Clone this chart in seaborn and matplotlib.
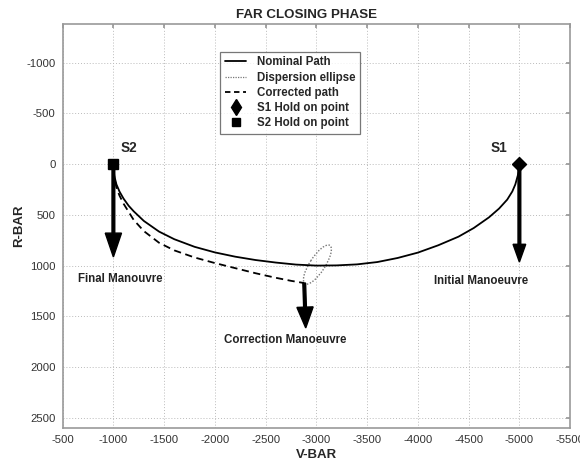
import numpy as np
import pandas as pd
import matplotlib
matplotlib.use("Agg")
import matplotlib.pyplot as plt
import seaborn as sns
from matplotlib.patches import Ellipse
from matplotlib.lines import Line2D

# data
nominal_v = [-1000, -1010, -1030, -1060, -1100, -1150, -1200, -1300, -1450, -1600,
             -1800, -2000, -2200, -2400, -2600, -2800, -3000, -3200, -3400, -3600,
             -3800, -4000, -4200, -4400, -4550, -4700, -4800, -4880, -4930, -4960,
             -4985, -5000]
nominal_r = [40, 120, 200, 270, 340, 410, 465, 560, 665, 740,
             815, 870, 912, 945, 970, 990, 1000, 998, 988, 965,
             925, 872, 800, 715, 630, 525, 438, 350, 270, 200,
             110, 30]

corrected_v = [-1000, -1010, -1030, -1060, -1100, -1150, -1200, -1300, -1450, -1600,
               -1800, -2000, -2200, -2400, -2600, -2750, -2880]
corrected_r = [60, 140, 230, 310, 390, 470, 550, 660, 775, 850,
               920, 975, 1025, 1075, 1120, 1150, 1172]

ellipse_center = (-3010, 990)
ellipse_axes = (450, 150)
ellipse_angle = 57

hold_points = {"S1": (-5000, 0), "S2": (-1000, 0)}

# manoeuvre arrows: start, tip, head width, head length
arrows = [
    ((-1000, 30), (-1000, 915), 160, 235),
    ((-5000, 30), (-5000, 965), 125, 175),
    ((-2880, 1172), (-2895, 1614), 160, 205),
]
arrow_labels = [("Final Manouvre", -1070, 1130),
                ("Initial Manoeuvre", -4620, 1150),
                ("Correction Manoeuvre", -2690, 1735)]

xticks = np.arange(-500, -5501, -500)
yticks = np.arange(-1000, 2501, 500)

sns.set_theme(style="white")
plt.rcParams['font.family'] = ['Liberation Sans', 'DejaVu Sans']
plt.rcParams['axes.unicode_minus'] = False

fig = plt.figure(figsize=(5.8, 4.66), dpi=100)
ax = fig.add_axes([0.108, 0.0815, 0.875, 0.867])

nom = pd.DataFrame({"v": nominal_v, "r": nominal_r})
cor = pd.DataFrame({"v": corrected_v, "r": corrected_r})
sns.lineplot(data=nom, x="v", y="r", sort=False, estimator=None, color="black", lw=1.3, ax=ax)
sns.lineplot(data=cor, x="v", y="r", sort=False, estimator=None, color="black", lw=1.3,
             linestyle=(0, (4, 2.5)), ax=ax)

ax.add_patch(Ellipse(ellipse_center, ellipse_axes[0], ellipse_axes[1], angle=ellipse_angle,
                     fill=False, ec="#777777", lw=1.0, ls=(0, (1, 1.2))))

for start, tip, hw, hl in arrows:
    ax.arrow(start[0], start[1], tip[0] - start[0], tip[1] - start[1], width=27,
             head_width=hw, head_length=hl, length_includes_head=True,
             fc="black", ec="black", zorder=4)

ax.plot(*hold_points["S1"], marker="D", ms=7, color="black", zorder=5)
ax.plot(*hold_points["S2"], marker="s", ms=7, color="black", zorder=5)
ax.text(-4800, -160, "S1", fontsize=9.8, fontweight="bold", ha="center", va="center")
ax.text(-1150, -160, "S2", fontsize=9.8, fontweight="bold", ha="center", va="center")

for txt, x, y in arrow_labels:
    ax.text(x, y, txt, fontsize=8.3, fontweight="bold", color="#222222", ha="center", va="center")

ax.set_xlim(-500, -5500)
ax.set_ylim(2600, -1380)
ax.set_xticks(xticks)
ax.set_yticks(yticks)
ax.tick_params(labelsize=8.2, labelcolor="#333333", direction="in", length=3,
               color="#999999", top=True, right=True, pad=5)
ax.grid(True, color="#bbbbbb", ls=(0, (1, 2)), lw=0.7)
for s in ax.spines.values():
    s.set_color("#999999")
    s.set_linewidth(1.2)

ax.set_xlabel("V-BAR", fontsize=9.5, fontweight="bold", labelpad=3)
ax.set_ylabel("R-BAR", fontsize=9.5, fontweight="bold", labelpad=1)
ax.set_title("FAR CLOSING PHASE", fontsize=9.6, fontweight="bold", pad=4, x=0.48)

handles = [
    Line2D([], [], color="black", lw=1.3),
    Line2D([], [], color="#777777", lw=0.9, ls=(0, (1, 1))),
    Line2D([], [], color="black", lw=1.3, ls=(0, (3, 2))),
    Line2D([], [], color="black", marker="d", ms=8, ls="none"),
    Line2D([], [], color="black", marker="s", ms=6, ls="none"),
]
labels = ["Nominal Path", "Dispersion ellipse", "Corrected path",
          "S1 Hold on point", "S2 Hold on point"]
leg = ax.legend(handles, labels, loc="upper left", bbox_to_anchor=(0.31, 0.931),
                borderaxespad=0, fancybox=False, frameon=True, handlelength=1.9,
                prop={"size": 8.3, "weight": "bold"}, labelspacing=0.28,
                borderpad=0.4, handletextpad=0.9)
leg.get_frame().set_edgecolor("#555555")
leg.get_frame().set_linewidth(0.9)

fig.savefig("out.png", dpi=100)
